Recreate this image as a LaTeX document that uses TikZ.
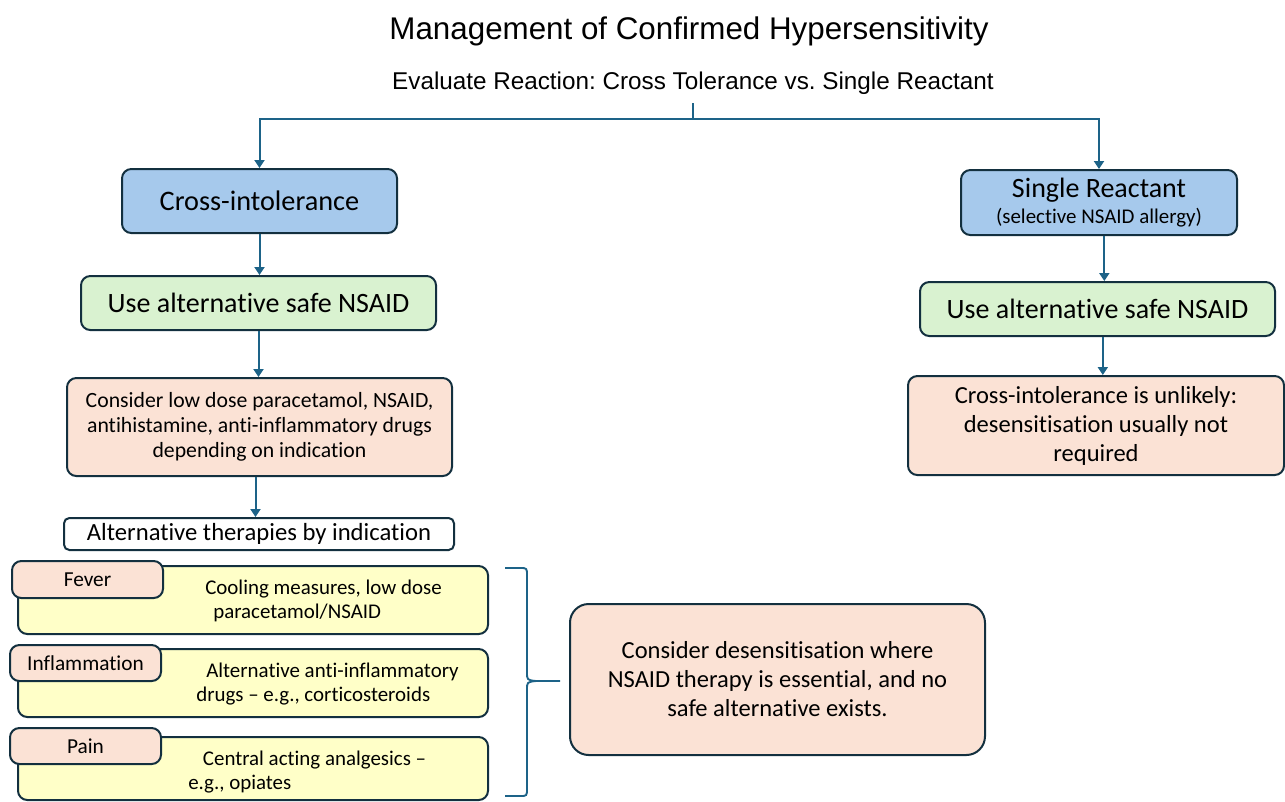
\documentclass[tikz,border=0pt]{standalone}
\usepackage{fontspec}
\setmainfont{Carlito}[Ligatures={TeX,NoCommon}]
\newfontfamily\titlefont{Liberation Sans}
\usetikzlibrary{arrows.meta}
\frenchspacing
\definecolor{conn}{HTML}{1D6388}
\definecolor{bord}{HTML}{13303F}
\definecolor{bluefill}{HTML}{A6C9EC}
\definecolor{greenfill}{HTML}{D9F2D0}
\definecolor{peachfill}{HTML}{FBE2D5}
\definecolor{yellowfill}{HTML}{FFFFC8}
\tikzset{
  sz/.style 2 args={minimum width=#1*0.75pt, minimum height=#2*0.75pt},
  fs/.style 2 args={font=\fontsize{#1}{#2}\selectfont},
  box/.style={draw=bord, line width=1.5pt, rounded corners=7pt, inner sep=0pt, align=center},
  bluebox/.style={box, fill=bluefill},
  greenbox/.style={box, fill=greenfill},
  peachbox/.style={box, fill=peachfill},
  yellowbox/.style={box, fill=yellowfill},
  whitebox/.style={box, fill=white, rounded corners=4pt},
  arr/.style={draw=conn, line width=1.5pt, -{Triangle[width=7.5pt,length=6pt]}},
  plain/.style={draw=conn, line width=1.5pt},
  txt/.style={inner sep=0pt, align=left, anchor=west},
}
\begin{document}
\begin{tikzpicture}[x=0.75pt,y=-0.75pt]
\useasboundingbox (0,0) rectangle (1285,801);
% titles
\node[inner sep=0pt, font=\titlefont\fontsize{23.5}{28}\selectfont] (title) at (689,31) {Management of Confirmed Hypersensitivity};
\node[inner sep=0pt, font=\titlefont\fontsize{18.2}{22}\selectfont] (sub) at (693,83) {Evaluate Reaction: Cross Tolerance vs. Single Reactant};
% left column
\node[bluebox, sz={275}{64}, fs={21.2}{25}] (cross) at (259.5,201) {Cross-intolerance};
\node[greenbox, sz={355}{54}, fs={21}{25}] (useL) at (258.5,303) {Use alternative safe NSAID};
\node[peachbox, sz={385}{98}, fs={16.3}{18.75}] (consL) at (259.5,427) {Consider low dose paracetamol, NSAID,\\ antihistamine, anti-inflammatory drugs\\ depending on indication};
\node[whitebox, sz={390}{32}, fs={18.5}{22}] (alt) at (259,534) {Alternative therapies by indication};
% right column
\node[bluebox, sz={276}{65}, fs={21}{22}] (single) at (1099,202.5) {\raisebox{-3pt}{Single Reactant}\\[1pt]{\fontsize{15.7}{18}\selectfont (selective NSAID allergy)}};
\node[greenbox, sz={355}{54}, fs={21}{25}] (useR) at (1097.5,309) {Use alternative safe NSAID};
\node[peachbox, sz={376}{99}, fs={18.4}{21.75}] (consR) at (1096,425.5) {Cross-intolerance is unlikely:\\ desensitisation usually not\\ required};
% indication boxes
\node[yellowbox, sz={470}{68}] (feverbox) at (253,600) {};
\node[peachbox, sz={151}{37}, fs={16}{19}] (fever) at (87.5,579.5) {Fever};
\node[txt, fs={15.7}{18}] (fevertxt) at (205,601) {Cooling measures, low dose\\ \hspace{6pt}paracetamol/NSAID};
\node[yellowbox, sz={470}{68}] (inflbox) at (253,683) {};
\node[peachbox, sz={151}{36}, fs={16}{19}] (infl) at (85.5,663) {Inflammation};
\node[txt, fs={15.7}{18}] (infltxt) at (196,684) {\hspace{7.5pt}Alternative anti-inflammatory\\ drugs – e.g., corticosteroids};
\node[yellowbox, sz={470}{63}] (painbox) at (253,768.5) {};
\node[peachbox, sz={151}{36}, fs={16}{19}] (pain) at (85.5,746) {Pain};
\node[txt, fs={15.7}{18}] (paintxt) at (188,772) {\hspace{11pt}Central acting analgesics –\\ e.g., opiates};
% desensitisation
\node[peachbox, sz={415}{151}, rounded corners=14pt, fs={18.4}{21.75}] (desens) at (777.5,679.5) {Consider desensitisation where\\ NSAID therapy is essential, and no\\ safe alternative exists.};
% connectors
\coordinate (split) at (693,119);
\draw[plain] (693,103) -- (split);
\draw[arr] (split) -| (cross.north);
\draw[arr] (split) -| (single.north);
\draw[arr] (cross.south) -- (cross.south |- useL.north);
\draw[arr] (useL.south) -- (useL.south |- consL.north);
\draw[arr] ([xshift=-3pt]consL.south) -- ([xshift=-3pt]consL.south |- alt.north);
\draw[arr] ([xshift=4pt]single.south) -- ([xshift=4pt]single.south |- useR.north);
\draw[arr] ([xshift=4pt]useR.south) -- ([xshift=4pt]useR.south |- consR.north);
% brace
\coordinate (btop) at (505,568);
\coordinate (bbot) at (505,796);
\coordinate (btip) at (560,681);
\draw[plain, line width=1.4pt]
  (btop) -- (520,568) .. controls (527,568) .. (527,576) -- (527,672)
  .. controls (527,680) .. (536,681) -- (btip);
\draw[plain, line width=1.4pt]
  (bbot) -- (520,796) .. controls (527,796) .. (527,788) -- (527,690)
  .. controls (527,682) .. (536,681);
\end{tikzpicture}
\end{document}
